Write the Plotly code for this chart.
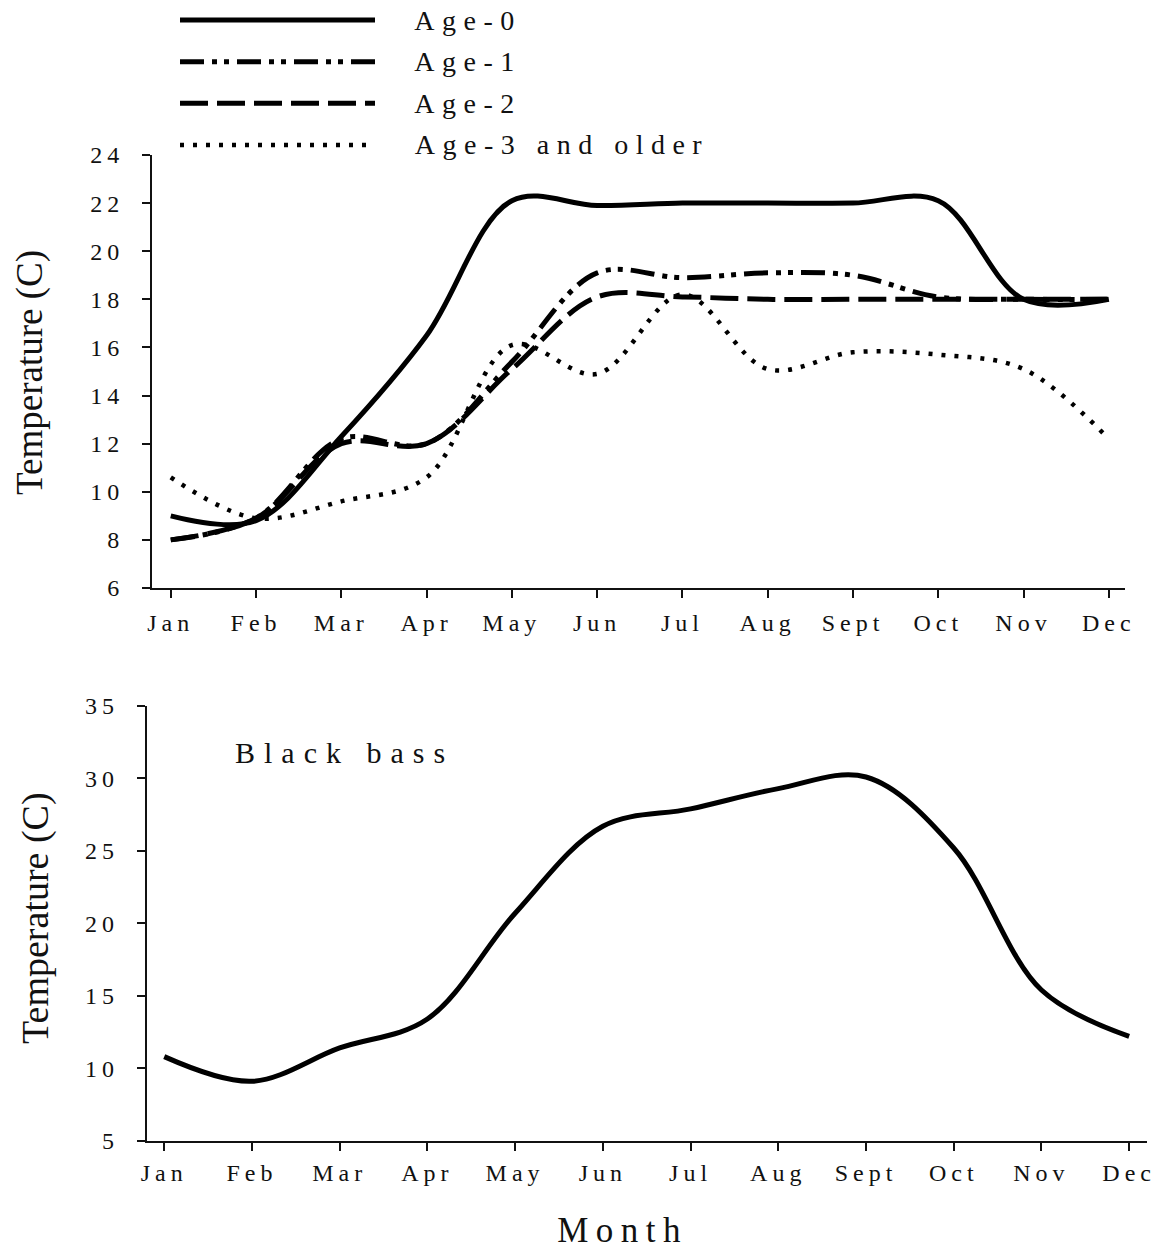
import json
import plotly.graph_objects as go

# Month categories shared by both panels
months = ["Jan", "Feb", "Mar", "Apr", "May", "Jun", "Jul", "Aug", "Sept", "Oct", "Nov", "Dec"]

# Preferred temperature (C) by month for each age class
age0 = [9.0, 8.8, 12.3, 16.5, 22.1, 21.9, 22.0, 22.0, 22.0, 22.1, 18.0, 18.0]
age1 = [8.0, 8.9, 12.2, 12.0, 15.4, 19.1, 18.9, 19.1, 19.0, 18.1, 18.0, 18.0]
age2 = [8.0, 8.9, 12.0, 12.0, 15.1, 18.1, 18.1, 18.0, 18.0, 18.0, 18.0, 18.0]
age3 = [10.6, 8.9, 9.6, 10.6, 16.1, 14.9, 18.2, 15.1, 15.8, 15.7, 15.1, 12.2]
series_names = ["Age-0", "Age-1", "Age-2", "Age-3 and older"]

# Black bass temperature (C) by month
bass = [10.8, 9.1, 11.4, 13.4, 20.7, 26.7, 27.9, 29.3, 30.1, 25.2, 15.4, 12.2]

W, H = 1168, 1249
INK = "#111111"
SERIF = "Liberation Serif, Times New Roman, serif"


def fx(p):
    return p / W


def fy(p):
    return 1 - p / H


styles = [
    dict(width=5, dash="solid"),
    dict(width=5, dash="24px,8px,5px,7px,5px,8px"),
    dict(width=5, dash="28px,9px"),
    dict(width=4.5, dash="4px,9px"),
]

fig = go.Figure()

# upper panel: four age classes
for name, vals, st in zip(series_names, [age0, age1, age2, age3], styles):
    fig.add_trace(go.Scatter(
        x=months, y=vals, name=name, mode="lines",
        line=dict(color="black", width=st["width"], dash=st["dash"], shape="spline", smoothing=1.0),
        xaxis="x", yaxis="y", showlegend=False,
    ))

# key drawn on its own hidden axes above the upper panel
for i, (name, st) in enumerate(zip(series_names, styles)):
    fig.add_trace(go.Scatter(
        x=[0, 1], y=[i, i], mode="lines", name=name,
        line=dict(color="black", width=st["width"], dash=st["dash"]),
        xaxis="x3", yaxis="y3", showlegend=False, hoverinfo="skip",
    ))

# lower panel: black bass
fig.add_trace(go.Scatter(
    x=months, y=bass, name="Black bass", mode="lines",
    line=dict(color="black", width=5, shape="spline", smoothing=1.0),
    xaxis="x2", yaxis="y2", showlegend=False,
))

tick_font = dict(family=SERIF, size=24, color=INK)
axis_common = dict(
    showline=True, linecolor=INK, linewidth=2, mirror=False,
    ticks="outside", ticklen=8, tickwidth=2, tickcolor=INK,
    showgrid=False, zeroline=False, tickfont=tick_font, automargin=False,
)

annotations = []
legend_centers = [468, 468, 468, 562]
for i, (name, cx) in enumerate(zip(series_names, legend_centers)):
    annotations.append(dict(
        text=name, x=fx(cx), xref="paper", y=i, yref="y3",
        xanchor="center", yanchor="middle", showarrow=False,
        font=dict(family=SERIF, size=28, color=INK),
    ))
annotations += [
    dict(text="Black bass", x=fx(344), xref="paper", y=fy(752), yref="paper",
         xanchor="center", yanchor="middle", showarrow=False,
         font=dict(family=SERIF, size=30, color=INK)),
    dict(text="Month", x=fx(623), xref="paper", y=fy(1230), yref="paper",
         xanchor="center", yanchor="middle", showarrow=False,
         font=dict(family=SERIF, size=35, color=INK)),
    dict(text="Temperature (C)", x=fx(30), xref="paper", y=fy(373), yref="paper",
         xanchor="center", yanchor="middle", textangle=-90, showarrow=False,
         font=dict(family=SERIF, size=37, color=INK)),
    dict(text="Temperature (C)", x=fx(35), xref="paper", y=fy(918), yref="paper",
         xanchor="center", yanchor="middle", textangle=-90, showarrow=False,
         font=dict(family=SERIF, size=38, color=INK)),
]
# extra spacing between letters for each annotation, in order
letter_gaps = [7.5, 7.5, 7.5, 7.5, 9, 7.5, 0, 0]

fig.update_layout(
    width=W, height=H,
    margin=dict(l=0, r=0, t=0, b=0, autoexpand=False),
    paper_bgcolor="white", plot_bgcolor="white",
    showlegend=False,
    xaxis=dict(domain=[fx(152), fx(1125)], range=[-0.22, 11.19], type="category",
               categoryorder="array", categoryarray=months, anchor="y",
               ticklabelstandoff=4, **axis_common),
    yaxis=dict(domain=[fy(588), fy(155)], range=[6, 24], dtick=2, anchor="x",
               ticklabelstandoff=13, **axis_common),
    xaxis2=dict(domain=[fx(146.7), fx(1146.7)], range=[-0.2, 11.2], type="category",
                categoryorder="array", categoryarray=months, anchor="y2",
                ticklabelstandoff=1, **axis_common),
    yaxis2=dict(domain=[fy(1140.7), fy(706)], range=[5, 35], dtick=5, anchor="x2",
                ticklabelstandoff=13, **axis_common),
    xaxis3=dict(domain=[fx(180), fx(375)], range=[0, 1], visible=False, anchor="y3"),
    yaxis3=dict(domain=[fy(155.4), fy(9.6)], range=[3.25, -0.25], visible=False, anchor="x3"),
    annotations=annotations,
)

post = """
var gd = document.getElementById('{plot_id}');
var gaps = %s;
gd.querySelectorAll('g.xtick text, g.x2tick text, g.ytick text, g.y2tick text').forEach(function (t) {
  t.style.letterSpacing = '5px';
});
gd.querySelectorAll('g.annotation').forEach(function (g) {
  var i = parseInt(g.getAttribute('data-index'));
  var t = g.querySelector('text.annotation-text');
  if (t && gaps[i]) { t.style.letterSpacing = gaps[i] + 'px'; }
});
""" % json.dumps(letter_gaps)

fig.write_html("out.html", post_script=post)
